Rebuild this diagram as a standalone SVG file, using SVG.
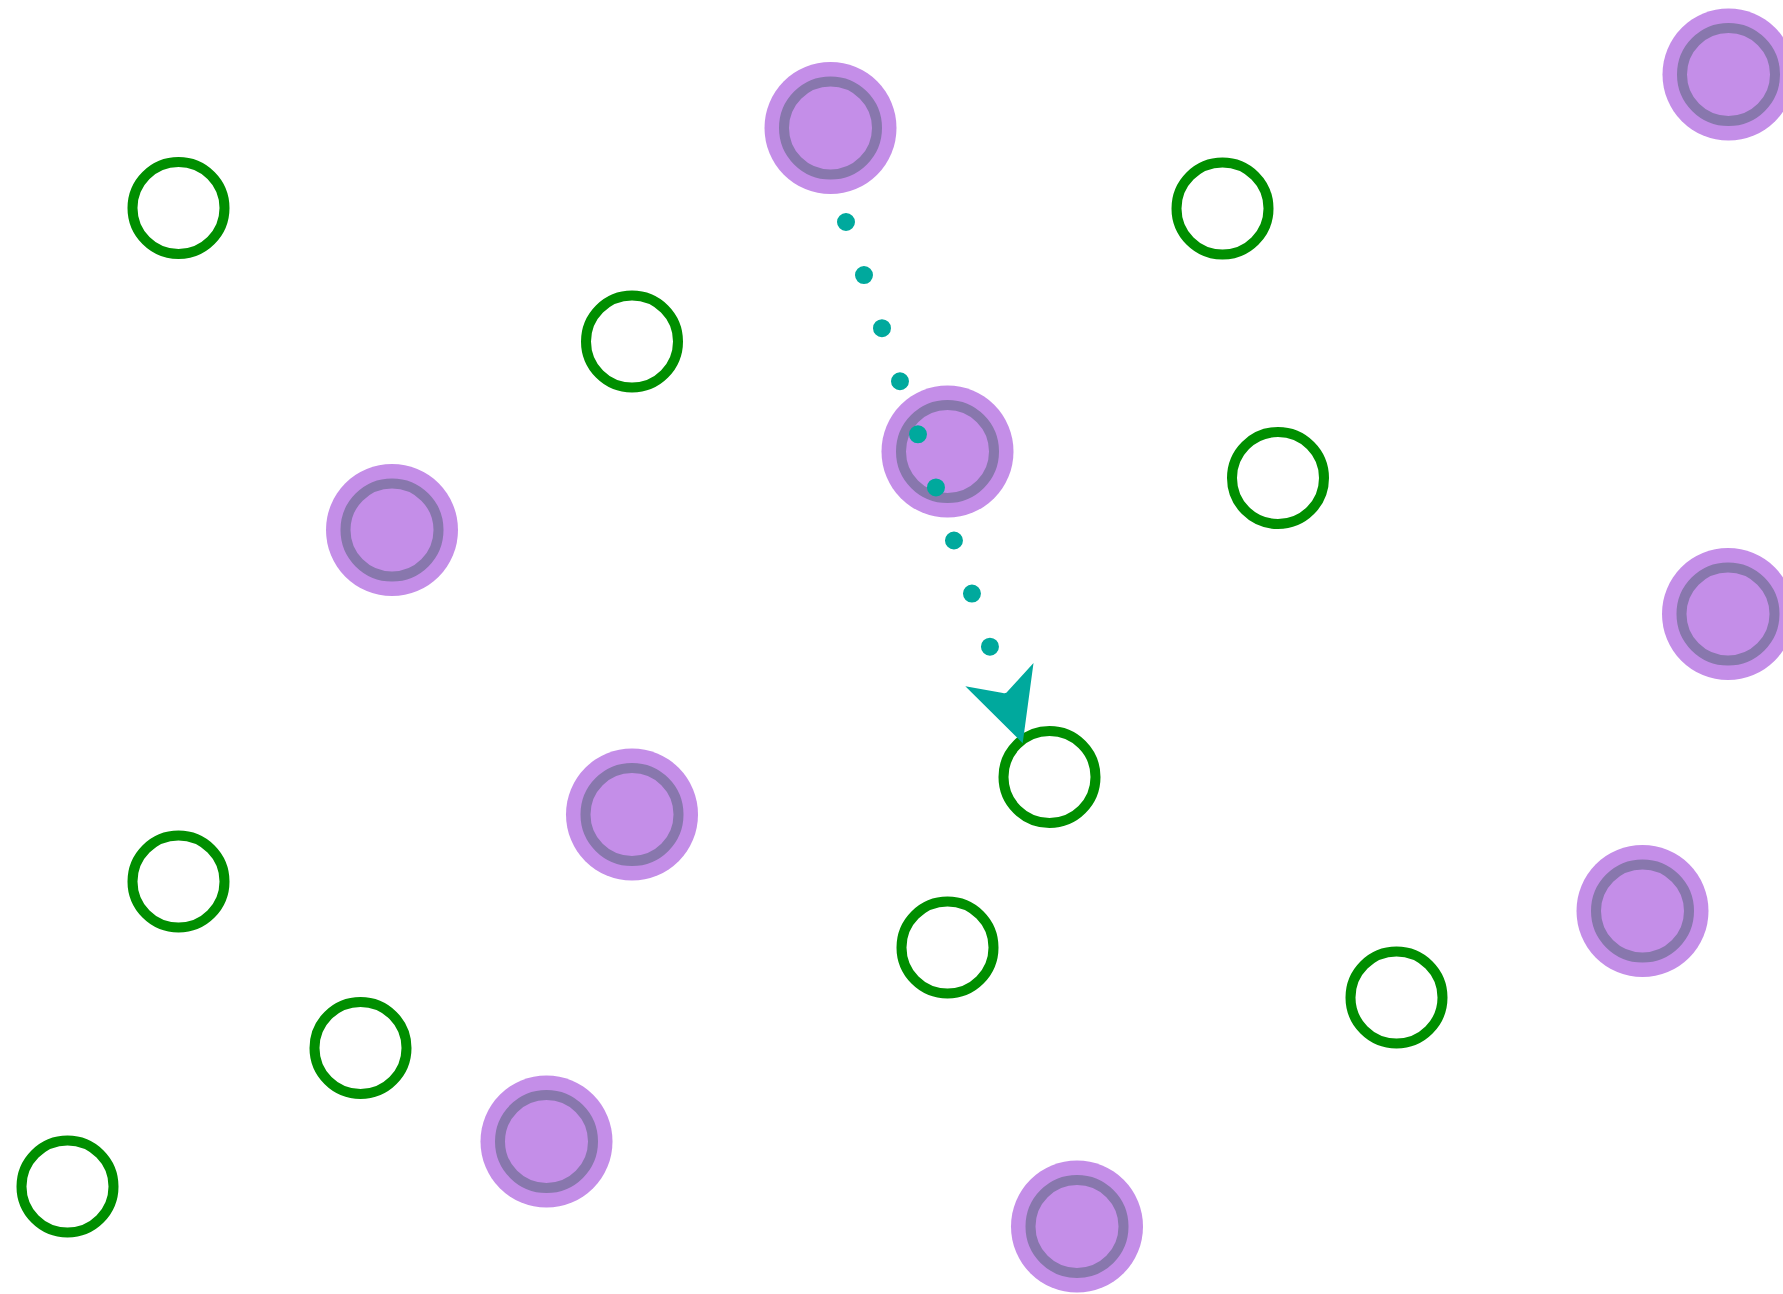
<svg xmlns="http://www.w3.org/2000/svg" width="1783" height="1294" viewBox="0 0 1783 1294">
<style>
.halo{fill:#c48ee8}
.ring{fill:#c48ee8;stroke:#8877ad;stroke-width:10}
.open{fill:#ffffff;stroke:#008f00;stroke-width:10}
.dots{fill:none;stroke:#00a99d;stroke-width:18;stroke-linecap:round;stroke-dasharray:0 56.05}
</style>
<defs>
<marker id="arrow" markerUnits="userSpaceOnUse" markerWidth="120" markerHeight="120" refX="0" refY="0" orient="auto" overflow="visible">
<path d="M52,0 L-20.5,-36 L-2,-2.5 Q0,0 -2,2.5 L-20.5,36 Z" fill="#00a99d"/>
</marker>
</defs>
<rect width="1783" height="1294" fill="#ffffff"/>
<g id="nodes">
<g id="p1"><circle class="halo" cx="830.5" cy="128" r="66"/><circle class="ring" cx="830.5" cy="128" r="46.5"/></g>
<g id="p2"><circle class="halo" cx="1728.5" cy="74.5" r="66"/><circle class="ring" cx="1728.5" cy="74.5" r="46.5"/></g>
<g id="p3"><circle class="halo" cx="947.5" cy="451.5" r="66"/><circle class="ring" cx="947.5" cy="451.5" r="46.5"/></g>
<g id="p4"><circle class="halo" cx="392" cy="530" r="66"/><circle class="ring" cx="392" cy="530" r="46.5"/></g>
<g id="p5"><circle class="halo" cx="1728" cy="614" r="66"/><circle class="ring" cx="1728" cy="614" r="46.5"/></g>
<g id="p6"><circle class="halo" cx="632" cy="814.5" r="66"/><circle class="ring" cx="632" cy="814.5" r="46.5"/></g>
<g id="p7"><circle class="halo" cx="1642.5" cy="911" r="66"/><circle class="ring" cx="1642.5" cy="911" r="46.5"/></g>
<g id="p8"><circle class="halo" cx="546.5" cy="1141.5" r="66"/><circle class="ring" cx="546.5" cy="1141.5" r="46.5"/></g>
<g id="p9"><circle class="halo" cx="1077" cy="1226.5" r="66"/><circle class="ring" cx="1077" cy="1226.5" r="46.5"/></g>
<g id="g1"><circle class="open" cx="178.5" cy="208" r="46"/></g>
<g id="g2"><circle class="open" cx="1222.5" cy="208.5" r="46"/></g>
<g id="g3"><circle class="open" cx="632" cy="341.5" r="46"/></g>
<g id="g4"><circle class="open" cx="1278" cy="478" r="46"/></g>
<g id="g5"><circle class="open" cx="1049.5" cy="777" r="46"/></g>
<g id="g6"><circle class="open" cx="178.5" cy="881.5" r="46"/></g>
<g id="g7"><circle class="open" cx="947.5" cy="947.5" r="46"/></g>
<g id="g8"><circle class="open" cx="360.5" cy="1048" r="46"/></g>
<g id="g9"><circle class="open" cx="1396.5" cy="997.5" r="46"/></g>
<g id="g10"><circle class="open" cx="67.5" cy="1186.5" r="46"/></g>
</g>
<g id="connectors">
<path class="dots" d="M846,222 L1006,694" marker-end="url(#arrow)"/>
</g>
</svg>
